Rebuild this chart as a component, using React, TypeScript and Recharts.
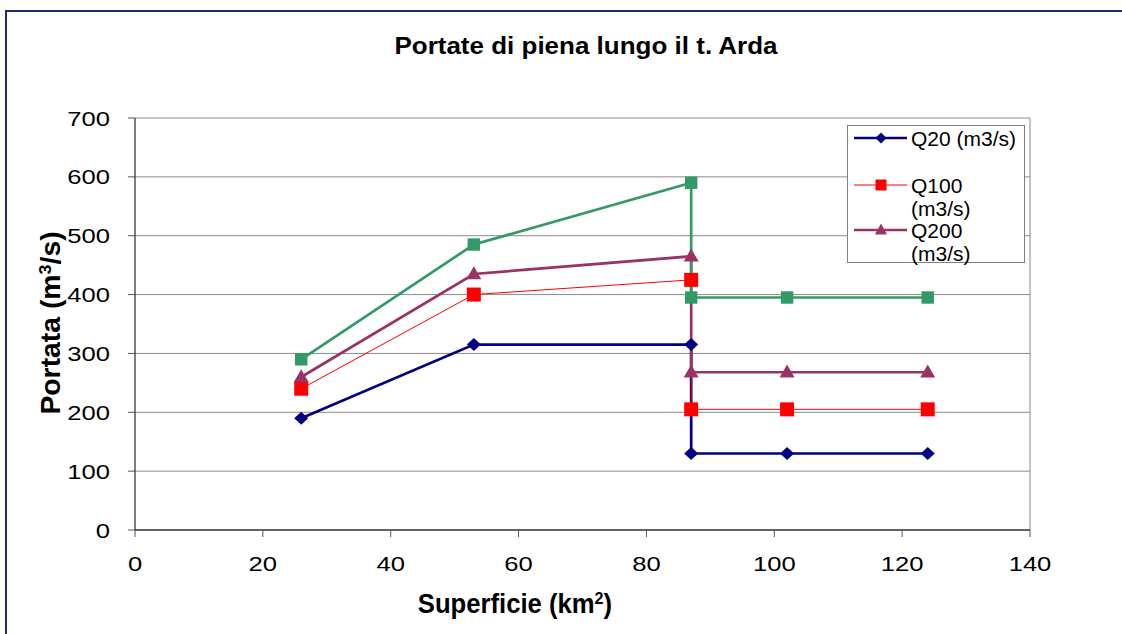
import React from 'react';
import { LineChart, Line, XAxis, YAxis, CartesianGrid, ReferenceLine } from 'recharts';

const superficie = [26, 53, 87, 87, 102, 124];
const q20 = [190, 315, 315, 130, 130, 130];
const q100 = [240, 400, 425, 205, 205, 205];
const q200 = [260, 435, 465, 268, 268, 268];
const q500 = [290, 485, 590, 395, 395, 395];
const xTicks = [0, 20, 40, 60, 80, 100, 120, 140];
const yTicks = [0, 100, 200, 300, 400, 500, 600, 700];

const toRows = (ys: number[]) => superficie.map((x, i) => ({ x, y: ys[i] }));

const FONT = '"Liberation Sans", Arial, sans-serif';

const makeDiamond = (rx: number, ry: number) => (props: any) => {
  const { cx, cy, fill } = props;
  if (cx == null || cy == null) return null;
  return <path d={`M${cx},${cy - ry}L${cx + rx},${cy}L${cx},${cy + ry}L${cx - rx},${cy}Z`} fill={fill} />;
};
const makeSquare = (r: number) => (props: any) => {
  const { cx, cy, fill } = props;
  if (cx == null || cy == null) return null;
  return <rect x={cx - r} y={cy - r} width={2 * r} height={2 * r} fill={fill} />;
};
const makeTriangle = (hw: number, h: number) => (props: any) => {
  const { cx, cy, fill } = props;
  if (cx == null || cy == null) return null;
  return <path d={`M${cx},${cy - h * 0.6}L${cx + hw},${cy + h * 0.4}L${cx - hw},${cy + h * 0.4}Z`} fill={fill} />;
};

const series = [
  { name: 'Q20 (m3/s)', data: q20, color: '#000080', width: 2.7, Shape: makeDiamond(7, 6.5), LShape: makeDiamond(5.5, 5.5) },
  { name: 'Q100 (m3/s)', data: q100, color: '#FF0000', width: 1, Shape: makeSquare(7), LShape: makeSquare(5.5) },
  { name: 'Q200 (m3/s)', data: q200, color: '#993366', width: 2.7, Shape: makeTriangle(7.5, 13), LShape: makeTriangle(6, 11) },
  { name: 'Q500 (m3/s)', data: q500, color: '#339966', width: 2.7, Shape: makeSquare(6.2), LShape: makeSquare(5.5) },
];

const XTick = (props: any) => {
  const { x, y, payload } = props;
  return (
    <text transform={`translate(${x},${y + 34}) scale(1.28,1)`} textAnchor="middle" fontSize={20} fontFamily={FONT} fill="#000">
      {payload.value}
    </text>
  );
};
const YTick = (props: any) => {
  const { x, y, payload } = props;
  return (
    <text transform={`translate(${x - 18},${y + 7.5}) scale(1.28,1)`} textAnchor="end" fontSize={20} fontFamily={FONT} fill="#000">
      {payload.value}
    </text>
  );
};

const Label = ({ cx, cy, size, sx, rotate, bold, children }: any) => (
  <div
    style={{
      position: 'absolute',
      left: cx,
      top: cy,
      transform: `translate(-50%, -50%) ${rotate ? 'rotate(-90deg) ' : ''}scaleX(${sx})`,
      whiteSpace: 'nowrap',
      fontSize: size,
      lineHeight: 1,
      fontWeight: bold ? 'bold' : 'normal',
      color: '#000',
      fontFamily: FONT,
    }}
  >
    {children}
  </div>
);

const LegendBox = () => {
  const items = [
    { label: ['Q20 (m3/s)'], s: series[0], y: 138 },
    { label: ['Q100', '(m3/s)'], s: series[1], y: 185 },
    { label: ['Q200', '(m3/s)'], s: series[2], y: 230 },
  ];
  return (
    <div style={{ position: 'absolute', left: 847, top: 125, width: 176, height: 136, border: '1px solid #808080', background: '#fff', fontFamily: FONT, color: '#000' }}>
      {items.map((it, i) => {
        const S = it.s.LShape;
        const ty = it.y - 126;
        return (
          <React.Fragment key={i}>
            <svg width={56} height={20} style={{ position: 'absolute', left: 6, top: ty - 10 }}>
              <line x1={0} y1={10} x2={53} y2={10} stroke={it.s.color} strokeWidth={it.s.width === 1 ? 1 : 2.5} />
              <S cx={27} cy={10} fill={it.s.color} />
            </svg>
            <div style={{ position: 'absolute', left: 63, top: ty - 11, fontSize: 21, lineHeight: '23px', whiteSpace: 'nowrap' }}>
              {it.label.map((l, j) => <div key={j}>{l}</div>)}
            </div>
          </React.Fragment>
        );
      })}
    </div>
  );
};

export default function App() {
  return (
    <div style={{ position: 'fixed', left: 0, top: 0, width: 1122, height: 634, overflow: 'hidden', background: '#fff', fontFamily: FONT }}>
      <div style={{ position: 'absolute', left: 5, top: 10, right: -10, bottom: -10, borderLeft: '2px solid #1f2a6e', borderTop: '2px solid #1f2a6e' }} />
      <div style={{ position: 'absolute', left: 0, top: 0 }}>
        <LineChart width={1122} height={634} margin={{ top: 118, right: 92, left: 0, bottom: 0 }}>
          <CartesianGrid horizontal vertical={false} stroke="#8a8a8a" strokeWidth={1} />
          <XAxis
            type="number"
            dataKey="x"
            domain={[0, 140]}
            ticks={xTicks}
            height={104}
            tickSize={7}
            tickMargin={0}
            stroke="#000"
            tickLine={{ stroke: '#555' }}
            tick={<XTick />}
            allowDuplicatedCategory={false}
          />
          <YAxis
            type="number"
            dataKey="y"
            domain={[0, 700]}
            ticks={yTicks}
            width={135}
            tickSize={7}
            tickMargin={0}
            stroke="#000"
            tickLine={{ stroke: '#555' }}
            tick={<YTick />}
          />
          <ReferenceLine x={140} stroke="#8a8a8a" />
          {series.map((s) => (
            <Line
              key={s.name}
              data={toRows(s.data)}
              dataKey="y"
              name={s.name}
              type="linear"
              stroke={s.color}
              strokeWidth={s.width}
              dot={<s.Shape fill={s.color} />}
              activeDot={false}
              isAnimationActive={false}
            />
          ))}
        </LineChart>
      </div>
      <Label cx={586} cy={46} size={23} sx={1.13} bold>Portate di piena lungo il t. Arda</Label>
      <Label cx={515} cy={604} size={27} sx={0.95} bold>
        Superficie (km<sup style={{ fontSize: 17, verticalAlign: 'top', position: 'relative', top: -1 }}>2</sup>)
      </Label>
      <Label cx={51} cy={323} size={27} sx={1.05} rotate bold>
        Portata (m<sup style={{ fontSize: 17, verticalAlign: 'top', position: 'relative', top: -1 }}>3</sup>/s)
      </Label>
      <LegendBox />
    </div>
  );
}
